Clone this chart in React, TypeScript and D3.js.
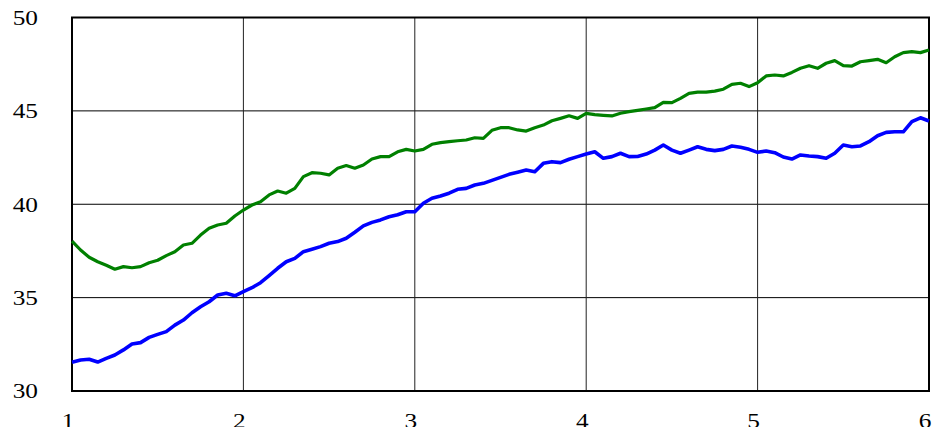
import React from 'react';
import { scaleLinear, line, curveLinear } from 'd3';

const width = 936;
const height = 432;
const margin = { top: 17.5, right: 7, bottom: 41, left: 72 };

// x runs 1..6 in steps of 0.05
const xStart = 1;
const xStep = 0.05;

const greenSeries = [
  38.03, 37.55, 37.16, 36.92, 36.73, 36.52, 36.66, 36.6, 36.66, 36.87,
  37.0, 37.25, 37.46, 37.82, 37.91, 38.35, 38.71, 38.89, 38.98, 39.37,
  39.69, 39.96, 40.14, 40.5, 40.71, 40.59, 40.85, 41.48, 41.69, 41.66,
  41.57, 41.93, 42.07, 41.93, 42.1, 42.42, 42.55, 42.55, 42.81, 42.94,
  42.85, 42.94, 43.21, 43.3, 43.35, 43.4, 43.44, 43.56, 43.53, 43.96,
  44.1, 44.1, 43.98, 43.92, 44.1, 44.24, 44.47, 44.6, 44.74, 44.6,
  44.87, 44.8, 44.76, 44.73, 44.87, 44.96, 45.03, 45.1, 45.17, 45.46,
  45.44, 45.67, 45.94, 46.0, 46.0, 46.06, 46.16, 46.42, 46.48, 46.3,
  46.51, 46.87, 46.92, 46.87, 47.06, 47.28, 47.42, 47.28, 47.55, 47.69,
  47.42, 47.4, 47.63, 47.69, 47.76, 47.58, 47.9, 48.12, 48.17, 48.12,
  48.26,
];

const blueSeries = [
  31.54, 31.66, 31.7, 31.55, 31.75, 31.93, 32.2, 32.52, 32.59, 32.87,
  33.03, 33.18, 33.53, 33.8, 34.19, 34.51, 34.78, 35.14, 35.23, 35.1,
  35.32, 35.53, 35.8, 36.18, 36.57, 36.92, 37.1, 37.46, 37.59, 37.73,
  37.91, 38.0, 38.18, 38.5, 38.84, 39.03, 39.16, 39.33, 39.44, 39.6,
  39.6, 40.05, 40.32, 40.44, 40.59, 40.8, 40.85, 41.03, 41.12, 41.28,
  41.44, 41.6, 41.71, 41.83, 41.74, 42.19, 42.28, 42.23, 42.41, 42.55,
  42.69, 42.81, 42.46, 42.55, 42.73, 42.55, 42.56, 42.69, 42.9, 43.17,
  42.9, 42.73, 42.9, 43.08, 42.94, 42.87, 42.94, 43.12, 43.05, 42.94,
  42.78, 42.85, 42.76, 42.53, 42.42, 42.64, 42.58, 42.55, 42.46, 42.73,
  43.17, 43.08, 43.12, 43.35, 43.67, 43.85, 43.88, 43.88, 44.42, 44.63,
  44.46,
];

const xTicks = [1, 2, 3, 4, 5, 6];
const yTicks = [30, 35, 40, 45, 50];

const App = () => {
  const x = scaleLinear()
    .domain([1, 6])
    .range([margin.left, width - margin.right]);
  const y = scaleLinear()
    .domain([30, 50])
    .range([height - margin.bottom, margin.top]);

  const path = line<number>()
    .x((_, i) => x(xStart + i * xStep))
    .y(d => y(d))
    .curve(curveLinear);

  const font = 'Liberation Serif, Times New Roman, serif';

  return (
    <svg
      width={width}
      height={height}
      style={{ position: 'absolute', left: 0, top: 0, background: '#fff' }}
    >
      {/* grid */}
      {yTicks.map(t => (
        <line key={'gy' + t} x1={x(1)} x2={x(6)} y1={y(t)} y2={y(t)} stroke="#000" strokeWidth={1} />
      ))}
      {xTicks.map(t => (
        <line key={'gx' + t} x1={x(t)} x2={x(t)} y1={y(30)} y2={y(50)} stroke="#222" strokeWidth={1} />
      ))}
      <rect
        x={x(1)}
        y={y(50)}
        width={x(6) - x(1)}
        height={y(30) - y(50)}
        fill="none"
        stroke="#000"
        strokeWidth={2}
      />

      <path d={path(greenSeries) || ''} fill="none" stroke="#008000" strokeWidth={3.2} strokeLinejoin="round" />
      <path d={path(blueSeries) || ''} fill="none" stroke="#0000ff" strokeWidth={3.6} strokeLinejoin="round" />

      {yTicks.map(t => (
        <text
          key={'ty' + t}
          transform={`translate(38,${y(t)}) scale(1.15,1)`}
          textAnchor="end"
          dominantBaseline="central"
          fontFamily={font}
          fontSize={22}
          fill="#000"
        >
          {t}
        </text>
      ))}
      {xTicks.map(t => (
        <text
          key={'tx' + t}
          transform={`translate(${x(t) - 4},428) scale(1.15,1)`}
          textAnchor="middle"
          fontFamily={font}
          fontSize={22}
          fill="#000"
        >
          {t}
        </text>
      ))}
      {/* the source image is clipped just under the x labels */}
      <rect x={0} y={427} width={width} height={height - 427} fill="#fff" />
    </svg>
  );
};

export default App;
